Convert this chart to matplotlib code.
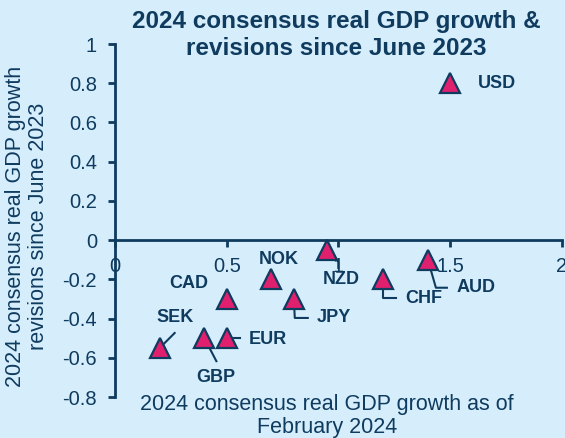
import numpy as np
import matplotlib
matplotlib.use("Agg")
import matplotlib.pyplot as plt
import matplotlib.transforms as mtransforms

plt.rcParams['font.family'] = ['Liberation Sans', 'DejaVu Sans']

# data
currencies = ['USD', 'AUD', 'CHF', 'NZD', 'NOK', 'JPY', 'CAD', 'SEK', 'GBP', 'EUR']
growth = [1.5, 1.4, 1.2, 0.95, 0.7, 0.8, 0.5, 0.2, 0.4, 0.5]
revisions = [0.8, -0.1, -0.2, -0.05, -0.2, -0.3, -0.3, -0.55, -0.5, -0.5]

# label placement: text offset (px, screen y down), alignment, leader polyline offsets
label_pos = {
    'USD': ((28, 0), 'left', None),
    'AUD': ((29, 28), 'left', [(0, 0), (8, 28), (19, 28)]),
    'CHF': ((22, 19), 'left', [(0, 0), (0, 19), (13, 19)]),
    'NZD': ((14, 30), 'center', [(0, 0), (11, 12), (11, 18)]),
    'NOK': ((7, -20), 'center', None),
    'JPY': ((23, 19), 'left', [(0, 0), (1, 19), (14, 19)]),
    'CAD': ((-38, -15), 'center', None),
    'SEK': ((15, -30), 'center', [(0, 0), (15, -15)]),
    'GBP': ((11, 39), 'center', [(0, 0), (12, 23)]),
    'EUR': ((22, 1), 'left', [(0, 0), (13, 0)]),
}

bg = '#D6EEFC'
navy = '#0F3B5F'
pink = '#E0206F'

fig = plt.figure(figsize=(5.65, 4.38), dpi=100)
fig.patch.set_facecolor(bg)
ax = fig.add_axes([0.2035, 0.0936, 0.7912, 0.8059])
ax.set_facecolor(bg)

ax.set_xlim(0, 2)
ax.set_ylim(-0.8, 1)
ax.set_xticks([0, 0.5, 1, 1.5, 2])
ax.set_xticklabels(['0', '0.5', '1', '1.5', '2'])
ax.set_yticks(np.arange(-0.8, 1.01, 0.2))
ax.set_yticklabels(['-0.8', '-0.6', '-0.4', '-0.2', '0', '0.2', '0.4', '0.6', '0.8', '1'])

for s in ['top', 'right']:
    ax.spines[s].set_visible(False)
ax.spines['bottom'].set_position(('data', 0))
for s in ['left', 'bottom']:
    ax.spines[s].set_color(navy)
    ax.spines[s].set_linewidth(2)
ax.tick_params(axis='both', colors=navy, labelsize=14.5, width=2, length=5,
               labelcolor=navy, direction='out')
ax.tick_params(axis='x', pad=7)
ax.tick_params(axis='y', pad=8)

ax.plot(growth, revisions, linestyle='none', marker='^', markersize=15,
        markerfacecolor=pink, markeredgecolor=navy, markeredgewidth=1.6, zorder=3,
        clip_on=False)

px = 72.0 / fig.dpi
for name, gx, ry in zip(currencies, growth, revisions):
    (tdx, tdy), ha, leader = label_pos[name]
    if leader is not None:
        lx, ly = [], []
        for dx, dy in leader:
            tr = mtransforms.ScaledTranslation(dx / fig.dpi, -dy / fig.dpi, fig.dpi_scale_trans)
            pt = (ax.transData + tr).transform((gx, ry))
            x_, y_ = ax.transData.inverted().transform(pt)
            lx.append(x_)
            ly.append(y_)
        ax.plot(lx, ly, color=navy, lw=1.5, zorder=2, clip_on=False)
    ax.annotate(name, (gx, ry), xytext=(tdx * px, -tdy * px), textcoords='offset points',
                ha=ha, va='center', fontsize=13, fontweight='bold', color=navy, zorder=4)

fig.text(336 / 565, 1 - 35 / 438, '2024 consensus real GDP growth &\nrevisions since June 2023',
         ha='center', va='center', fontsize=17.5, fontweight='bold', color=navy,
         linespacing=1.23)
fig.text(327 / 565, 1 - 416 / 438, '2024 consensus real GDP growth as of\nFebruary 2024',
         ha='center', va='center', fontsize=15.5, color=navy, linespacing=1.1)
fig.text(27 / 565, 1 - 226 / 438, '2024 consensus real GDP growth\nrevisions since June 2023',
         ha='center', va='center', rotation=90, fontsize=15.5, color=navy, linespacing=1.1)

fig.savefig('out.png', dpi=100, facecolor=bg)
